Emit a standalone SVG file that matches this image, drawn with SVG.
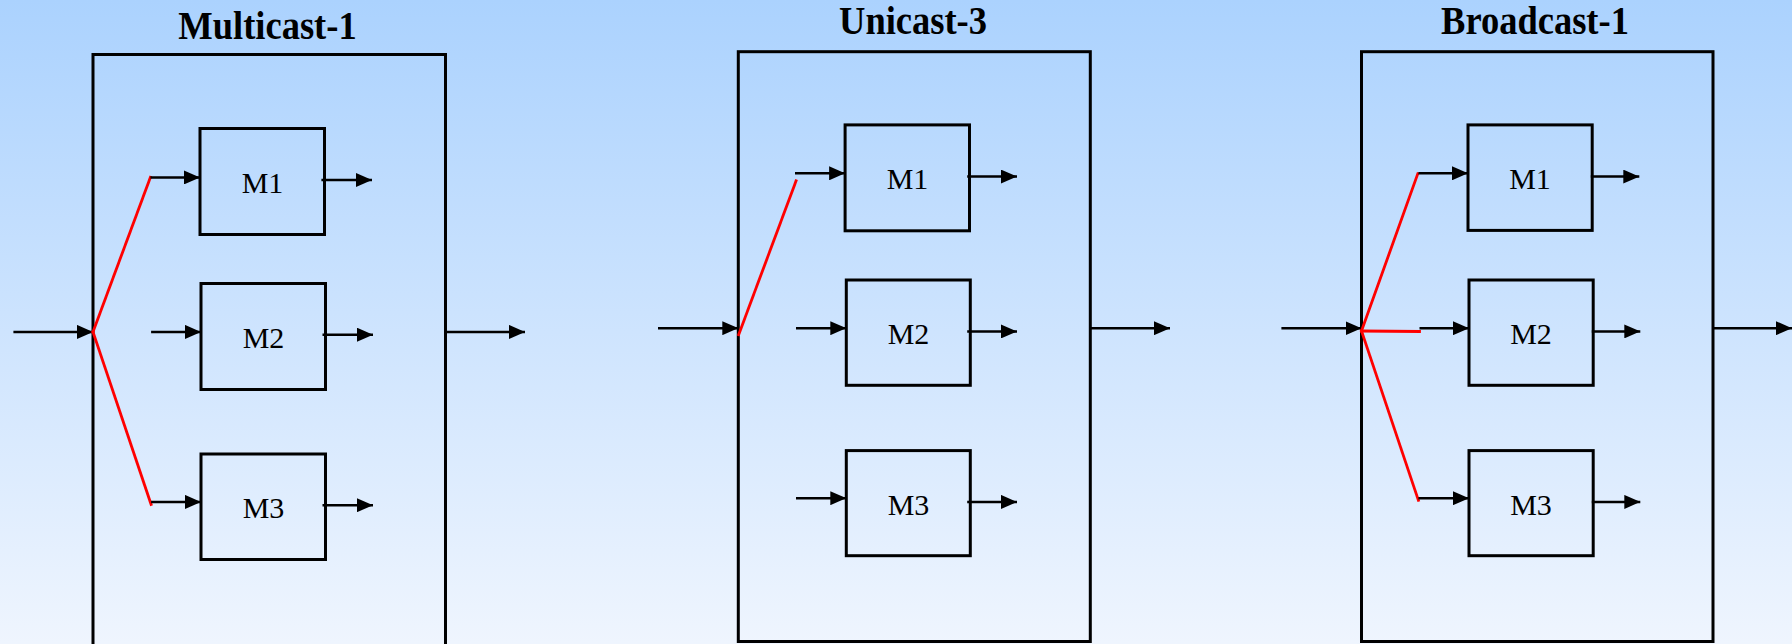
<svg xmlns="http://www.w3.org/2000/svg" width="1792" height="644" viewBox="0 0 1792 644">
  <defs>
    <linearGradient id="bg" x1="0" y1="0" x2="0" y2="1">
      <stop offset="0" stop-color="#abd2fe"/>
      <stop offset="1" stop-color="#eff5fe"/>
    </linearGradient>
    <marker id="arrow" markerUnits="userSpaceOnUse" markerWidth="16" markerHeight="14" refX="16" refY="7" orient="auto" viewBox="0 0 16 14">
      <path d="M0,0 L16,7 L0,14 z" fill="#000"/>
    </marker>
    <style>
      .frame { fill: none; stroke: #000; stroke-width: 3; }
      .mod { fill: none; stroke: #000; stroke-width: 3; }
      .title { font-family: "Liberation Serif", "Times New Roman", serif; font-weight: bold; font-size: 36.5px; text-anchor: middle; fill: #000; }
      .label { font-family: "Liberation Serif", "Times New Roman", serif; font-size: 30px; text-anchor: middle; fill: #000; }
      .flow { fill: none; stroke: #000; stroke-width: 2.5; marker-end: url(#arrow); }
      .switch { fill: none; stroke: #ff0000; stroke-width: 2.8; stroke-linecap: square; }
    </style>
  </defs>

  <rect x="0" y="0" width="1792" height="644" fill="url(#bg)"/>

  <!-- Multicast-1 -->
  <g id="multicast-1">
    <text class="title" transform="translate(267.5,39) scale(1,1.09)">Multicast-1</text>
    <rect class="frame" x="93" y="54.5" width="352.5" height="600"/>
  </g>
  <g id="multicast-1-m1">
    <rect class="mod" x="200" y="128.5" width="124.5" height="106"/>
    <text class="label" x="262.5" y="193">M1</text>
  </g>
  <g id="multicast-1-m2">
    <rect class="mod" x="201" y="283.5" width="124.5" height="106"/>
    <text class="label" x="263.5" y="347.5">M2</text>
  </g>
  <g id="multicast-1-m3">
    <rect class="mod" x="201" y="454" width="124.5" height="105.5"/>
    <text class="label" x="263.5" y="518">M3</text>
  </g>

  <!-- Unicast-3 -->
  <g id="unicast-3">
    <text class="title" transform="translate(913,33.7) scale(1,1.09)">Unicast-3</text>
    <rect class="frame" x="738.3" y="51.7" width="352" height="589.8"/>
  </g>
  <g id="unicast-3-m1">
    <rect class="mod" x="845.1" y="124.9" width="124.4" height="105.9"/>
    <text class="label" x="907.5" y="189">M1</text>
  </g>
  <g id="unicast-3-m2">
    <rect class="mod" x="846.3" y="280" width="124" height="105.3"/>
    <text class="label" x="908.5" y="344">M2</text>
  </g>
  <g id="unicast-3-m3">
    <rect class="mod" x="846.3" y="450.6" width="124" height="105.1"/>
    <text class="label" x="908.5" y="514.5">M3</text>
  </g>

  <!-- Broadcast-1 -->
  <g id="broadcast-1">
    <text class="title" transform="translate(1535,33.7) scale(1,1.09)">Broadcast-1</text>
    <rect class="frame" x="1361.5" y="51.7" width="351.5" height="589.8"/>
  </g>
  <g id="broadcast-1-m1">
    <rect class="mod" x="1468" y="124.9" width="124.2" height="105.5"/>
    <text class="label" x="1530" y="189">M1</text>
  </g>
  <g id="broadcast-1-m2">
    <rect class="mod" x="1469" y="280" width="124.2" height="105.3"/>
    <text class="label" x="1531" y="344">M2</text>
  </g>
  <g id="broadcast-1-m3">
    <rect class="mod" x="1469" y="450.6" width="124.2" height="105.1"/>
    <text class="label" x="1531" y="514.5">M3</text>
  </g>

  <g id="connectors">
    <!-- Multicast-1 -->
    <line class="flow" x1="13.4" y1="331.9" x2="93" y2="331.9"/>
    <line class="switch" x1="93" y1="331.9" x2="150.4" y2="177.4"/>
    <line class="switch" x1="93" y1="331.9" x2="151.1" y2="504.4"/>
    <line class="flow" x1="150.4" y1="177.4" x2="200" y2="177.4"/>
    <line class="flow" x1="151.1" y1="331.9" x2="201" y2="331.9"/>
    <line class="flow" x1="151.1" y1="501.9" x2="201" y2="501.9"/>
    <line class="flow" x1="321.4" y1="180" x2="372" y2="180"/>
    <line class="flow" x1="322.5" y1="334.7" x2="373" y2="334.7"/>
    <line class="flow" x1="322.5" y1="505.2" x2="373" y2="505.2"/>
    <line class="flow" x1="445.8" y1="331.9" x2="525" y2="331.9"/>

    <!-- Unicast-3 -->
    <line class="flow" x1="658" y1="328.2" x2="738.3" y2="328.2"/>
    <line class="switch" x1="738.7" y1="334.7" x2="796.1" y2="180.7"/>
    <line class="flow" x1="795" y1="173.3" x2="845.1" y2="173.3"/>
    <line class="flow" x1="796" y1="328.2" x2="846.3" y2="328.2"/>
    <line class="flow" x1="796" y1="498.2" x2="846.3" y2="498.2"/>
    <line class="flow" x1="967.2" y1="176.6" x2="1017" y2="176.6"/>
    <line class="flow" x1="967.2" y1="331.4" x2="1017" y2="331.4"/>
    <line class="flow" x1="967.2" y1="501.9" x2="1017" y2="501.9"/>
    <line class="flow" x1="1090.3" y1="328.2" x2="1170" y2="328.2"/>

    <!-- Broadcast-1 -->
    <line class="flow" x1="1281.4" y1="328.2" x2="1361.5" y2="328.2"/>
    <line class="switch" x1="1361.5" y1="331" x2="1417.8" y2="173.7"/>
    <line class="switch" x1="1361.5" y1="331" x2="1419.5" y2="331.5"/>
    <line class="switch" x1="1361.5" y1="331" x2="1418.4" y2="500.3"/>
    <line class="flow" x1="1418.4" y1="173.3" x2="1468" y2="173.3"/>
    <line class="flow" x1="1419.5" y1="328.2" x2="1469" y2="328.2"/>
    <line class="flow" x1="1418.4" y1="498.2" x2="1469" y2="498.2"/>
    <line class="flow" x1="1590.8" y1="176.6" x2="1639.3" y2="176.6"/>
    <line class="flow" x1="1591.8" y1="331.4" x2="1640.3" y2="331.4"/>
    <line class="flow" x1="1591.8" y1="501.9" x2="1640.3" y2="501.9"/>
    <line class="flow" x1="1713" y1="328.2" x2="1792" y2="328.2"/>
  </g>
</svg>
